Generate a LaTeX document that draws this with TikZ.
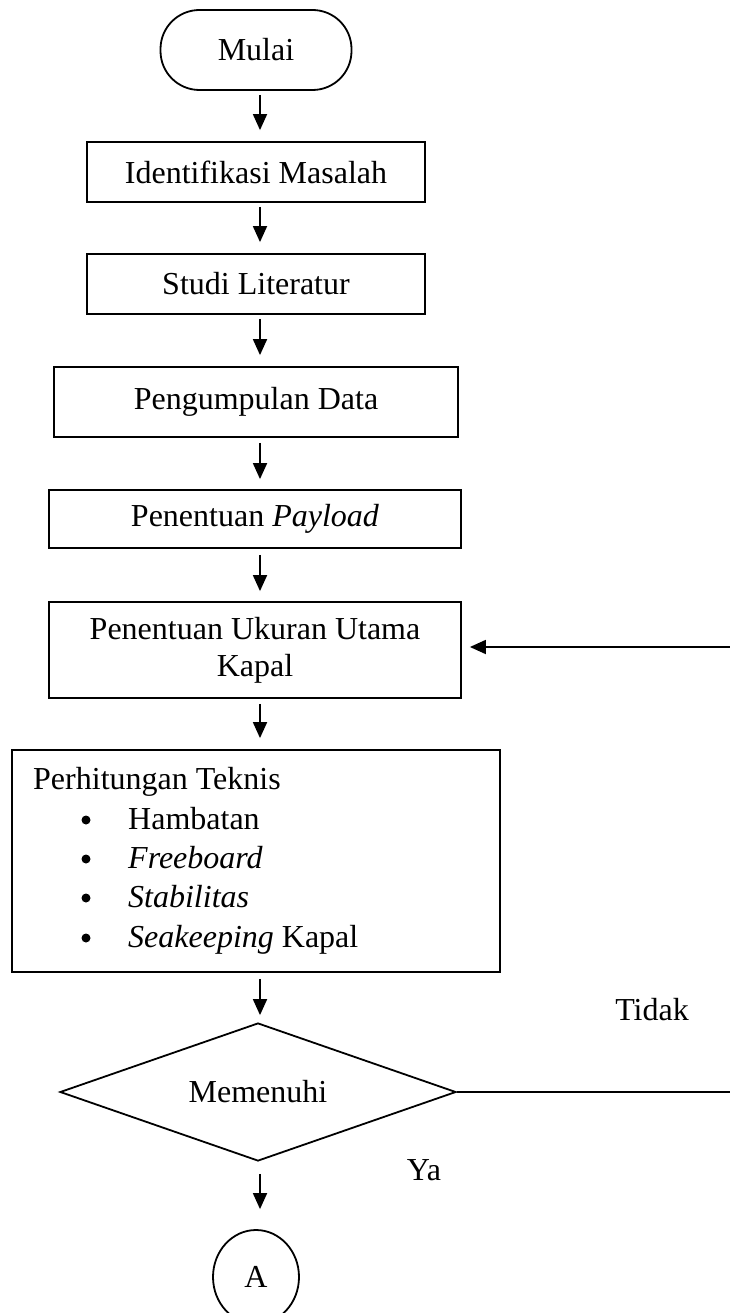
\documentclass[tikz,border=0pt]{standalone}
\usepackage{fontspec}
\setmainfont{Liberation Serif}
\usetikzlibrary{arrows.meta,shapes.geometric,calc}
\begin{document}
\begin{tikzpicture}[x=1pt,y=-1pt,
  every node/.style={font=\fontsize{32}{37}\selectfont},
  box/.style={draw,line width=1.8pt,rectangle,inner sep=0pt},
  term/.style={draw,line width=1.8pt,rectangle,rounded corners=39pt,inner sep=0pt},
  arr/.style={line width=1.8pt,-{Triangle[length=16pt,width=14pt]}},
  conn/.style={line width=1.8pt},
  lbl/.style={inner sep=0pt},
  dot/.style={circle,fill,inner sep=0pt,minimum size=9pt}]
\useasboundingbox (0,0) rectangle (730,1313);
\clip (0,0) rectangle (730,1313);
\coordinate (col) at (260,0);

\node[term,minimum width=191pt,minimum height=80pt] (mulai) at (256,50) {Mulai};
\node[box,minimum width=338pt,minimum height=60pt] (idm) at (256,172) {Identifikasi Masalah};
\node[box,minimum width=338pt,minimum height=60pt] (studi) at (256,284) {Studi Literatur};
\node[box,minimum width=404pt,minimum height=70pt] (data) at (256,402) {Pengumpulan Data};
\node[box,minimum width=412pt,minimum height=58pt] (payload) at (255,519) {Penentuan \textit{Payload}};
\node[box,minimum width=412pt,minimum height=96pt,align=center] (ukuran) at (255,650) {Penentuan Ukuran Utama\\Kapal};
\node[box,minimum width=488pt,minimum height=222pt] (teknis) at (256,861) {};
\node[lbl,anchor=base west] (t0) at (33,789) {Perhitungan Teknis};
\node[dot] (b1) at (86,820) {};
\node[lbl,anchor=base west] (t1) at (128,829) {Hambatan};
\node[dot] (b2) at (86,859) {};
\node[lbl,anchor=base west] (t2) at (128,868) {\textit{Freeboard}};
\node[dot] (b3) at (86,898) {};
\node[lbl,anchor=base west] (t3) at (128,907) {\textit{Stabilitas}};
\node[dot] (b4) at (86,938) {};
\node[lbl,anchor=base west] (t4) at (128,947) {\textit{Seakeeping} Kapal};
\node[draw,diamond,aspect=2.87,line width=1.8pt,inner sep=0pt,minimum width=396pt,minimum height=138pt] (dec) at (258,1092) {Memenuhi};
\node[draw,ellipse,line width=1.8pt,inner sep=0pt,minimum width=86pt,minimum height=94pt] (A) at (256,1277) {A};
\node[lbl] (tidak) at (652,1010) {Tidak};
\node[lbl] (ya) at (424,1170) {Ya};

\coordinate (r1) at (730,647);
\coordinate (r2) at (730,1092);

\draw[arr,shorten <=4pt,shorten >=11pt] (mulai.south -| col) -- (idm.north -| col);
\draw[arr,shorten <=4pt,shorten >=11pt] (idm.south -| col) -- (studi.north -| col);
\draw[arr,shorten <=4pt,shorten >=11pt] (studi.south -| col) -- (data.north -| col);
\draw[arr,shorten <=5pt,shorten >=10pt] (data.south -| col) -- (payload.north -| col);
\draw[arr,shorten <=6pt,shorten >=10pt] (payload.south -| col) -- (ukuran.north -| col);
\draw[arr,shorten <=5pt,shorten >=11pt] (ukuran.south -| col) -- (teknis.north -| col);
\draw[arr,shorten <=6pt,shorten >=7pt] (teknis.south -| col) -- (dec.north -| col);
\draw[arr,shorten <=12pt,shorten >=20pt] (dec.south -| col) -- (A.north -| col);
\draw[conn] (dec.east) -- (r2);
\draw[arr,shorten >=8pt] (r1) -- (ukuran.east |- r1);
\end{tikzpicture}
\end{document}
